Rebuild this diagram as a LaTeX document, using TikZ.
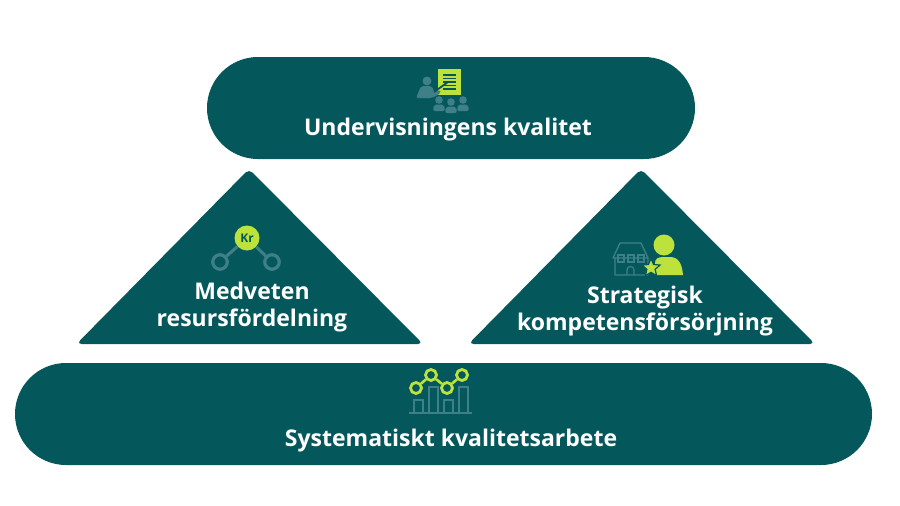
\documentclass[tikz,border=0pt]{standalone}
\usepackage{fontspec}
\setmainfont{Open Sans}
\usepackage{tikz}
\usetikzlibrary{positioning,shapes.misc,shapes.geometric}
\definecolor{teal}{HTML}{04585C}
\definecolor{lime}{HTML}{BEE23C}
\definecolor{muted}{HTML}{3F8088}
\tikzset{
  pill/.style = { fill = teal, rounded rectangle, inner sep = 0pt, minimum height = 102pt },
  tri/.style = { fill = teal, rounded corners = 5pt },
  label/.style = { text = white, font = \fontsize{23}{27}\selectfont\bfseries, align = center, inner sep = 0pt },
  ring/.style = { circle, draw = #1, line width = 2.8pt, fill = teal, inner sep = 0pt, minimum size = 11pt },
  bar/.style = { draw = muted, line width = 1.8pt }
}
\begin{document}
\begin{tikzpicture}[x = 1pt, y = -1pt]
    \useasboundingbox (0,0) rectangle (900,506);

    % bands
    \node [pill, minimum width = 488pt] (top) at (451,108) {};
    \node [pill, minimum width = 857pt] (base) at (443.5,414) {};
    \fill [tri] (249,169) -- (423,344) -- (76.5,344) -- cycle;
    \fill [tri] (641,169) -- (815,344) -- (468.5,344) -- cycle;

    % texts
    \node [label] (toplabel) at (451,129.5) { Undervisningens kvalitet };
    \node [label] (leftlabel) at (252,307.5) { Medveten\\ resursfördelning };
    \node [label] (rightlabel) at (645,311) { Strategisk\\ kompetensförsörjning };
    \node [label] (baselabel) at (454,440.5) { Systematiskt kvalitetsarbete };

    % teaching icon
    \fill [lime] (438,69) rectangle (461,95);
    \foreach \y in {75,78.5,82,85.5,89}
      \draw [teal, line width = 1.4pt] (443,\y) -- (456,\y);
    \fill [muted] (427,81) circle (4.5pt);
    \fill [muted, rounded corners = 2pt] (416,98) -- (421,86) -- (432,86) -- (434,92) -- (440,90) -- (441,93) -- (432,98) -- cycle;
    \draw [teal, line width = 1.8pt] (434,92) -- (448,82);
    \foreach \x/\y in {439/100,451/102,463/100} {
      \fill [muted] (\x,\y) circle (3.8pt);
      \fill [muted, rounded corners = 2pt] (\x-6,\y+11) -- (\x-5,\y+4.5) -- (\x+5,\y+4.5) -- (\x+6,\y+11) -- cycle;
    }

    % money icon
    \node [ring = muted, minimum size = 14.5pt, line width = 3.2pt] (moneyleft) at (220,262) {};
    \node [ring = muted, minimum size = 14.5pt, line width = 3.2pt] (moneyright) at (272,262) {};
    \node [circle, fill = lime, inner sep = 0pt, minimum size = 25pt, text = teal, font = \fontsize{12}{12}\selectfont\bfseries] (money) at (247,238) { Kr };
    \draw [muted, line width = 3pt] (money) -- (moneyleft);
    \draw [muted, line width = 3pt] (money) -- (moneyright);

    % school and person icon
    \draw [muted, line width = 1.3pt, line join = round] (613,258) -- (620,243) -- (641,243) -- (648,258) -- cycle
      (615,258) -- (615,275) -- (648,275) -- (648,258);
    \foreach \x in {618,628,638}
      \draw [muted, line width = 1.2pt] (\x,255) rectangle (\x+6,262);
    \draw [muted, line width = 1.2pt] (627,275) -- (627,270) arc (180:0:3.5pt) -- (634,275);
    \fill [lime] (664,245) circle (10.5pt);
    \fill [lime] (655,275) -- (655,263) .. controls (655,259) and (658,257) .. (663,257) -- (670,257) .. controls (678,257) and (682,263) .. (683,275) -- cycle;
    \node [star, star points = 5, star point ratio = 2.2, fill = lime, draw = teal, line width = 1.2pt, inner sep = 0pt, minimum size = 19pt] (award) at (651,268) {};

    % chart icon
    \draw [muted, line width = 1.8pt] (409,413) -- (472,413);
    \foreach \x/\y in {414/400,429/387,444/400,459/387}
      \draw [bar] (\x,413) -- (\x,\y) -- (\x+9,\y) -- (\x+9,413);
    \node [ring = lime] (pa) at (416,388) {};
    \node [ring = lime] (pb) at (431,375) {};
    \node [ring = lime] (pc) at (447,388) {};
    \node [ring = lime] (pd) at (462,375) {};
    \draw [lime, line width = 2.6pt] (pa) -- (pb);
    \draw [lime, line width = 2.6pt] (pb) -- (pc);
    \draw [lime, line width = 2.6pt] (pc) -- (pd);
\end{tikzpicture}
\end{document}
